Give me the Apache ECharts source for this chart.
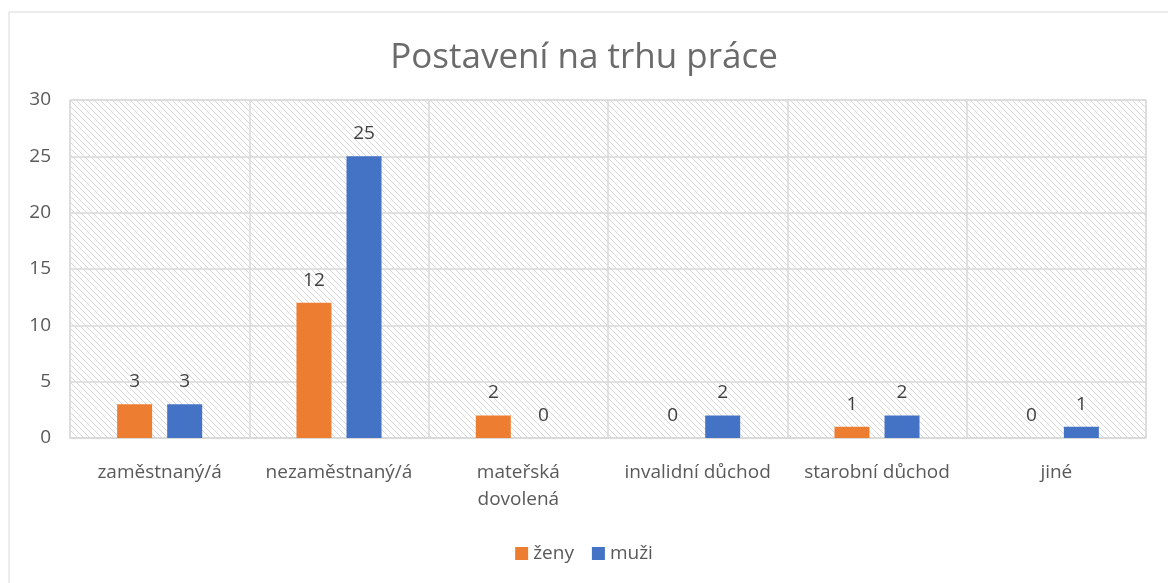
<!DOCTYPE html>
<html><head><meta charset="utf-8">
<script src="https://cdn.jsdelivr.net/npm/echarts@6/dist/echarts.min.js"></script>
<style>html,body{margin:0;padding:0;background:#fff}#c{width:1168px;height:583px}</style>
</head><body><div id="c"></div>
<script>
const categories = ['zaměstnaný/á','nezaměstnaný/á','mateřská\ndovolená','invalidní důchod','starobní důchod','jiné'];
const zeny = [3,12,2,0,1,0];
const muzi = [3,25,0,2,2,1];
const yTicks = [0,5,10,15,20,25,30];

function hatch(){
  const c = document.createElement('canvas');
  c.width = 6; c.height = 6;
  const g = c.getContext('2d');
  g.strokeStyle = '#d9d9d9';
  g.lineWidth = 1;
  for (let k=-6;k<=12;k+=6){
    g.beginPath(); g.moveTo(k,0); g.lineTo(k+6,6); g.stroke();
  }
  return c;
}
const font = 'Open Sans, sans-serif';
const chart = echarts.init(document.getElementById('c'));
chart.setOption({
  animation:false,
  backgroundColor:'#fff',
  graphic:[{type:'rect',shape:{x:9,y:12,width:1170,height:580},style:{fill:'none',stroke:'#d9d9d9',lineWidth:1},silent:true}],
  title:{text:'Postavení na trhu práce',left:'center',top:36,textStyle:{fontFamily:font,fontSize:35,fontWeight:'normal',color:'#6b6b6b'}},
  legend:{bottom:15,left:'center',itemWidth:13,itemHeight:13,itemGap:18,icon:'rect',textStyle:{fontFamily:font,fontSize:19,color:'#595959'},data:['ženy','muži']},
  grid:{left:70,right:22,top:100,bottom:145,show:true,borderColor:'#d9d9d9',borderWidth:1,backgroundColor:{image:hatch(),repeat:'repeat'}},
  xAxis:{type:'category',data:categories,axisLine:{show:true,lineStyle:{color:'#d9d9d9',width:1.5}},axisTick:{show:false},
    splitLine:{show:true,lineStyle:{color:'#d9d9d9',width:1.5}},
    axisLabel:{fontFamily:font,fontSize:19,color:'#595959',margin:21,lineHeight:27,interval:0}},
  yAxis:{type:'value',min:0,max:30,interval:5,axisLine:{show:false},axisTick:{show:false},
    splitLine:{lineStyle:{color:'#d9d9d9',width:1.5}},
    axisLabel:{fontFamily:font,fontSize:19,color:'#595959',margin:19}},
  series:[
    {name:'ženy',type:'bar',data:zeny,barWidth:35,barGap:'43%',itemStyle:{color:'#ed7d31'},
     label:{show:true,position:'top',distance:13,fontFamily:font,fontSize:19,color:'#404040'}},
    {name:'muži',type:'bar',data:muzi,barWidth:35,barGap:'43%',itemStyle:{color:'#4472c4'},
     label:{show:true,position:'top',distance:13,fontFamily:font,fontSize:19,color:'#404040'}}
  ]
});
</script></body></html>
